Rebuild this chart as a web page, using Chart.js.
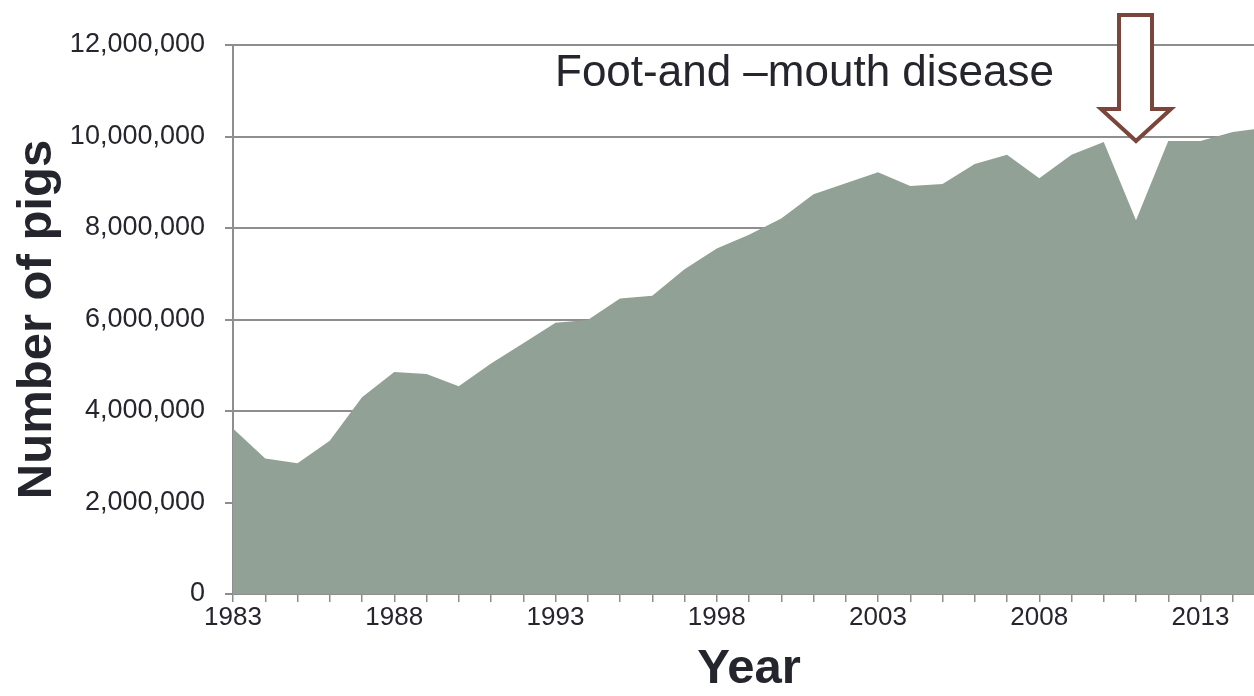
<!DOCTYPE html>
<html>
<head>
<meta charset="utf-8">
<title>Number of pigs</title>
<script src="https://cdn.jsdelivr.net/npm/chart.js@4.4.1/dist/chart.umd.min.js"></script>
<style>
  html, body { margin: 0; padding: 0; background: #fff; overflow: hidden; }
  #wrap { width: 1254px; height: 696px; overflow: hidden; }
</style>
</head>
<body>
<div id="wrap"><canvas id="myChart" width="1300" height="696"></canvas></div>
<script>
// pig herd per year
const years = ['1983', '1984', '1985', '1986', '1987', '1988', '1989', '1990', '1991', '1992',
    '1993', '1994', '1995', '1996', '1997', '1998', '1999', '2000', '2001', '2002',
    '2003', '2004', '2005', '2006', '2007', '2008', '2009', '2010', '2011', '2012',
    '2013', '2014', '2015'];
const pigs = [3620000, 2960000, 2860000, 3350000, 4300000, 4850000, 4810000, 4540000, 5040000, 5480000,
    5930000, 5990000, 6460000, 6520000, 7100000, 7550000, 7850000, 8210000, 8740000, 8980000,
    9220000, 8920000, 8960000, 9400000, 9600000, 9090000, 9600000, 9880000, 8170000, 9900000,
    9900000, 10100000, 10190000];
const yTicks = [0, 2000000, 4000000, 6000000, 8000000, 10000000, 12000000];
const outbreakYear = '2011';
const noteText = 'Foot-and \u2013mouth disease';

const textColor = '#25252d';
const gridColor = '#8e8e8e';

// arrow pointing at the outbreak year + the caption
const outbreakNote = {
    id: 'outbreakNote',
    afterDraw(chart) {
        const ctx = chart.ctx;
        const x = chart.scales.x.getPixelForValue(years.indexOf(outbreakYear));
        const tipY = chart.scales.y.getPixelForValue(9900000);
        ctx.save();
        ctx.beginPath();
        ctx.moveTo(x, tipY);
        ctx.lineTo(x - 35, tipY - 32);
        ctx.lineTo(x - 17, tipY - 32);
        ctx.lineTo(x - 17, 15);
        ctx.lineTo(x + 16, 15);
        ctx.lineTo(x + 16, tipY - 32);
        ctx.lineTo(x + 35, tipY - 32);
        ctx.closePath();
        ctx.fillStyle = '#ffffff';
        ctx.fill();
        ctx.lineWidth = 4;
        ctx.lineJoin = 'miter';
        ctx.strokeStyle = '#7a463b';
        ctx.stroke();

        ctx.font = '44px "Liberation Sans", Arial, sans-serif';
        ctx.fillStyle = textColor;
        ctx.textAlign = 'right';
        ctx.textBaseline = 'alphabetic';
        ctx.fillText(noteText, x - 82, 86);
        ctx.restore();
    }
};

const ctx = document.getElementById('myChart');

new Chart(ctx, {
    type: 'line',
    data: {
        labels: years,
        datasets: [{
            label: 'Number of pigs',
            data: pigs,
            fill: 'origin',
            backgroundColor: '#91a196',
            borderWidth: 0,
            pointRadius: 0,
            tension: 0
        }]
    },
    options: {
        responsive: false,
        animation: false,
        layout: { padding: { top: 45, right: 35, left: 0, bottom: 0 } },
        plugins: {
            legend: { display: false },
            tooltip: { enabled: false }
        },
        scales: {
            x: {
                offset: false,
                grid: { drawOnChartArea: false, drawTicks: true, tickLength: 8, color: gridColor, lineWidth: 1.5 },
                border: { display: true, color: gridColor, width: 2 },
                ticks: {
                    autoSkip: false,
                    maxRotation: 0,
                    padding: 0,
                    color: textColor,
                    font: { family: '"Liberation Sans", Arial, sans-serif', size: 26 },
                    callback: function (value, index) {
                        return index % 5 === 0 ? years[index] : '';
                    }
                },
                title: {
                    display: true,
                    text: 'Year',
                    color: textColor,
                    font: { family: '"Liberation Sans", Arial, sans-serif', size: 49, weight: 'bold', lineHeight: 1 },
                    padding: { top: 0, bottom: 2 }
                },
                afterFit: function (scale) { scale.height = 102; }
            },
            y: {
                min: 0,
                max: 12000000,
                afterBuildTicks: function (scale) {
                    scale.ticks = yTicks.map(v => ({ value: v }));
                },
                grid: { color: gridColor, lineWidth: 2, tickLength: 8 },
                border: { display: true, color: gridColor, width: 2 },
                ticks: {
                    padding: 20,
                    color: textColor,
                    font: { family: '"Liberation Sans", Arial, sans-serif', size: 27 },
                    callback: function (value) { return value.toLocaleString('en-US'); }
                },
                title: {
                    display: true,
                    text: 'Number of pigs',
                    color: textColor,
                    font: { family: '"Liberation Sans", Arial, sans-serif', size: 49, weight: 'bold', lineHeight: 1 },
                    padding: { top: 13, bottom: 0 }
                },
                afterFit: function (scale) { scale.width = 233; }
            }
        }
    },
    plugins: [outbreakNote]
});
</script>
</body>
</html>
